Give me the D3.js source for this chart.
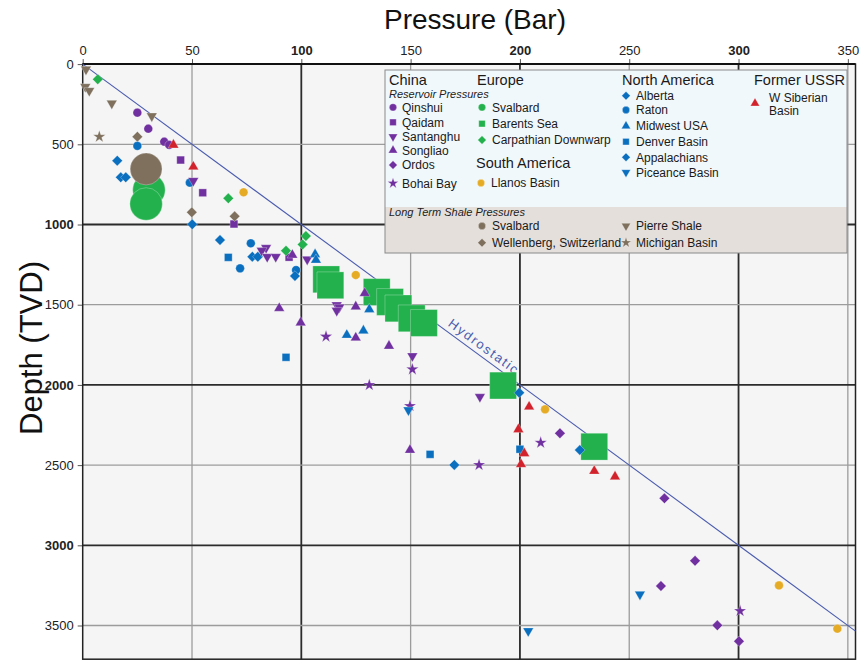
<!DOCTYPE html>
<html>
<head>
<meta charset="utf-8">
<script src="https://cdn.jsdelivr.net/npm/d3@7"></script>
<style>
  body { margin: 0; background: #fff; }
  svg { font-family: "Liberation Sans", Arial, sans-serif; }
</style>
</head>
<body>
<div id="chart"></div>
<script>
// values: [pressure (bar), depth (m TVD)]
// China - reservoir pressures
const qinshui   = [[25,303],[30,403],[37.3,484],[39.6,504]];
const qaidam    = [[44.8,598],[54.9,802],[69.2,997],[94.4,1204]];
const santanghu = [[50.6,727],[83.9,1145],[81.9,1163],[84.4,1201],[88.3,1201],[102.7,1217],
                   [116.2,1502],[117.4,1516],[116.2,1537],[150.8,1820],[181.7,2074]];
const songliao  = [[95.9,1190],[129,1429],[124.9,1512],[89.9,1522],[99.7,1612],[124.9,1706],
                   [140.1,1757],[149.7,2406]];
const ordos     = [[218.3,2302],[266.1,2707],[280.1,3096],[264.5,3254],[290.3,3499],[300.2,3598]];
const bohaiBay  = [[111.3,1699],[131.1,2001],[150.8,1903],[149.7,2132],[181.3,2499],[209.5,2360],[300.7,3410]];
// Europe
const svalbard    = [[30.3,785],[29,872]];
const barentsSea  = [[111.4,1342],[113.3,1379],[134.5,1421],[140.6,1483],[144.4,1523],
                     [150.5,1585],[156.1,1614],[192.3,2004],[234,2385]];
const carpathian  = [[6.9,95],[66.6,837],[102.1,1072],[100.6,1124],[93,1163]];
// South America
const llanos      = [[73.6,799],[124.9,1315],[211.5,2152],[318.5,3250],[345.2,3520]];
// North America
const alberta     = [[15.8,602],[17.4,706],[19.7,706],[50.1,999],[62.8,1097]];
const raton       = [[25,510],[49,739],[76.9,1117],[72,1273],[97.6,1284]];
const midwest     = [[106.3,1186],[106.7,1221],[131.1,1529],[120.8,1689],[128.4,1662]];
const denver      = [[66.6,1205],[93,1828],[158.9,2433],[200,2401]];
const appalachian = [[77.6,1201],[80.1,1201],[97.1,1321],[170,2499],[199.7,2049],[227.4,2406]];
const piceance    = [[149,2157],[254.9,3306],[203.8,3534]];
// Former USSR
const wSiberian   = [[41.5,504],[50.6,640],[204.2,2136],[199.3,2277],[202,2427],[200.5,2495],[234,2537],[243.5,2572]];
// Long term shale pressures
const ltSvalbard  = [[29,654]];
const wellenberg  = [[25,453],[49.9,924],[69.5,949]];
const pierreShale = [[1.5,33],[1.2,141],[3.0,166],[13.3,245],[31.6,324]];
const michigan    = [[7.6,453]];

const xTicks = [0, 50, 100, 150, 200, 250, 300, 350];
const yTicks = [0, 500, 1000, 1500, 2000, 2500, 3000, 3500];
const boldX = [100, 200, 300];
const boldY = [1000, 2000, 3000];
const hydroGradient = 10; // m per bar

const purple = '#7030a0', green = '#22b14c', blue = '#0b6fbf',
      orange = '#e6ab25', red = '#d2222c', brown = '#7e705d';

// style + legend slot per series (mx,my = legend marker, lx = label x)
const series = [
  {name:'Qinshui', data:qinshui, shape:'circle', color:purple, size:60, leg:[393,107.3,402]},
  {name:'Qaidam', data:qaidam, shape:'square', color:purple, size:60, leg:[393,122.3,402]},
  {name:'Santanghu', data:santanghu, shape:'down', color:purple, size:48, leg:[393,136.7,402]},
  {name:'Songliao', data:songliao, shape:'up', color:purple, size:48, leg:[393,150.3,402]},
  {name:'Ordos', data:ordos, shape:'diamond', color:purple, size:55, leg:[393,165,402]},
  {name:'Bohai Bay', data:bohaiBay, shape:'star', color:purple, size:48, leg:[393,183.3,402]},
  {name:'Svalbard', data:svalbard, shape:'circle', color:green, size:830, leg:[482,107.3,492]},
  {name:'Barents Sea', data:barentsSea, shape:'square', color:green, size:720, leg:[482,123.7,492]},
  {name:'Carpathian Downwarp', data:carpathian, shape:'diamond', color:green, size:55, leg:[482,140,492]},
  {name:'Llanos Basin', data:llanos, shape:'circle', color:orange, size:60, leg:[481,183,491]},
  {name:'Alberta', data:alberta, shape:'diamond', color:blue, size:55, leg:[626,95.7,636]},
  {name:'Raton', data:raton, shape:'circle', color:blue, size:60, leg:[626,110,636]},
  {name:'Midwest USA', data:midwest, shape:'up', color:blue, size:48, leg:[626,126,636]},
  {name:'Denver Basin', data:denver, shape:'square', color:blue, size:60, leg:[626,141.7,636]},
  {name:'Appalachians', data:appalachian, shape:'diamond', color:blue, size:55, leg:[626,157.3,636]},
  {name:'Piceance Basin', data:piceance, shape:'down', color:blue, size:48, leg:[626,172.3,636]},
  {name:'W Siberian|Basin', data:wSiberian, shape:'up', color:red, size:48, leg:[755,103.3,769]},
  {name:'Svalbard', data:ltSvalbard, shape:'circle', color:brown, size:800, leg:[482,226,492]},
  {name:'Wellenberg, Switzerland', data:wellenberg, shape:'diamond', color:brown, size:55, leg:[482,242.7,492]},
  {name:'Pierre Shale', data:pierreShale, shape:'down', color:brown, size:48, leg:[626,226,636]},
  {name:'Michigan Basin', data:michigan, shape:'star', color:brown, size:48, leg:[626,242.7,636]}
];

const width = 860, height = 660;
const svg = d3.select('#chart').append('svg')
  .attr('width', width).attr('height', height);

const x = d3.scaleLinear().domain([0, 353.5]).range([82.7, 855.5]);
const y = d3.scaleLinear().domain([0, 3710]).range([64.1, 659.2]);

// plot background
svg.append('rect')
  .attr('x', x(0)).attr('y', y(0))
  .attr('width', x(353.5) - x(0)).attr('height', y(3710) - y(0))
  .style('fill', '#f5f5f5');

// grid
svg.append('g').selectAll('line')
  .data(xTicks.filter(d => d > 0))
  .enter().append('line')
  .attr('x1', d => x(d)).attr('x2', d => x(d))
  .attr('y1', y(0)).attr('y2', y(3710))
  .style('stroke', d => boldX.includes(d) ? '#2b2b2b' : '#9c9c9c')
  .style('stroke-width', d => boldX.includes(d) ? 1.8 : 1.3);

svg.append('g').selectAll('line')
  .data(yTicks.filter(d => d > 0))
  .enter().append('line')
  .attr('x1', x(0)).attr('x2', x(353.5))
  .attr('y1', d => y(d)).attr('y2', d => y(d))
  .style('stroke', d => boldY.includes(d) ? '#2b2b2b' : '#9c9c9c')
  .style('stroke-width', d => boldY.includes(d) ? 1.8 : 1.3);

// axes
const xAxis = svg.append('g')
  .attr('transform', `translate(0,${y(0)})`)
  .call(d3.axisTop(x).tickValues(xTicks).tickFormat(d3.format('d'))
    .tickSize(5).tickPadding(4).tickSizeOuter(0));
const yAxis = svg.append('g')
  .attr('transform', `translate(${x(0)},0)`)
  .call(d3.axisLeft(y).tickValues(yTicks).tickFormat(d3.format('d'))
    .tickSize(5).tickPadding(4).tickSizeOuter(0));

[xAxis, yAxis].forEach(a => {
  a.select('.domain').remove();
  a.selectAll('line').style('stroke', '#555');
  a.selectAll('text')
    .style('font-size', '13px')
    .style('fill', '#222')
    .style('font-family', '"Liberation Sans", Arial, sans-serif');
});
xAxis.selectAll('text').style('font-weight', d => boldX.includes(d) ? 'bold' : 'normal');
yAxis.selectAll('text').style('font-weight', d => boldY.includes(d) ? 'bold' : 'normal');

// frame
svg.append('rect')
  .attr('x', x(0)).attr('y', y(0))
  .attr('width', x(353.5) - x(0)).attr('height', y(3710) - y(0))
  .style('fill', 'none').style('stroke', '#222').style('stroke-width', 1.5);
svg.append('line')
  .attr('x1', x(0)).attr('x2', x(353.5)).attr('y1', y(0)).attr('y2', y(0))
  .style('stroke', '#111').style('stroke-width', 2);

// titles
svg.append('text')
  .attr('x', 475).attr('y', 29)
  .attr('text-anchor', 'middle')
  .style('font-size', '28px').style('fill', '#111')
  .text('Pressure (Bar)');
svg.append('text')
  .attr('transform', 'translate(42,348) rotate(-90)')
  .attr('text-anchor', 'middle')
  .style('font-size', '31px').style('fill', '#111')
  .text('Depth (TVD)');

// hydrostatic line
const hydroMax = x.domain()[1];
svg.append('line')
  .attr('x1', x(0)).attr('y1', y(0))
  .attr('x2', x(hydroMax)).attr('y2', y(hydroMax * hydroGradient))
  .style('stroke', '#4a5cb0').style('stroke-width', 1.1);

const labelP = 181;
const angle = Math.atan2(y(hydroGradient * 100) - y(0), x(100) - x(0)) * 180 / Math.PI;
svg.append('text')
  .attr('transform', `translate(${x(labelP)},${y(labelP * hydroGradient)}) rotate(${angle})`)
  .attr('dy', -5)
  .attr('text-anchor', 'middle')
  .style('font-size', '13px')
  .style('letter-spacing', '1.8px')
  .style('fill', '#4a5cb0')
  .text('Hydrostatic');

// markers
const symbolTypes = {
  circle: d3.symbolCircle, square: d3.symbolSquare, diamond: d3.symbolSquare,
  up: d3.symbolTriangle, down: d3.symbolTriangle, star: d3.symbolStar
};
const rotation = { diamond: 45, down: 180 };

function marker(sel, s, size) {
  sel.attr('d', d3.symbol(symbolTypes[s.shape], size)())
    .style('fill', s.color)
    .style('stroke', '#fff')
    .style('stroke-width', 0.4)
    .style('stroke-opacity', 0.7);
}

// big symbols first so the small ones stay visible
const ordered = series.slice().sort((a, b) => b.size - a.size);
const pts = svg.append('g');
ordered.forEach(s => {
  pts.append('g').selectAll('path')
    .data(s.data)
    .enter().append('path')
    .attr('transform', d => `translate(${x(d[0])},${y(d[1])}) rotate(${rotation[s.shape] || 0})`)
    .call(marker, s, s.size);
});

// legend
const legend = svg.append('g');
legend.append('rect')
  .attr('x', 385).attr('y', 70).attr('width', 462).attr('height', 137)
  .style('fill', '#f1f8fc');
legend.append('rect')
  .attr('x', 385).attr('y', 207).attr('width', 462).attr('height', 46)
  .style('fill', '#e4dfdb');
legend.append('rect')
  .attr('x', 385).attr('y', 70).attr('width', 462).attr('height', 183)
  .style('fill', 'none').style('stroke', '#8a8a8a').style('stroke-width', 1);

const headers = [['China',389,84.5],['Europe',477,84.5],['North America',622,84.5],
                 ['Former USSR',754,84.5],['South America',476,168]];
legend.selectAll('text.head')
  .data(headers).enter().append('text')
  .attr('class', 'head')
  .attr('x', d => d[1]).attr('y', d => d[2])
  .style('font-size', '14.5px').style('fill', '#1a1a1a')
  .text(d => d[0]);

const subs = [['Reservoir Pressures',389,98],['Long Term Shale Pressures',389,215.5]];
legend.selectAll('text.sub')
  .data(subs).enter().append('text')
  .attr('class', 'sub')
  .attr('x', d => d[1]).attr('y', d => d[2])
  .style('font-size', '11px').style('font-style', 'italic').style('fill', '#222')
  .text(d => d[0]);

series.forEach(s => {
  const [mx, my, lx] = s.leg;
  const small = s.shape === 'circle' || s.shape === 'square' ? 42 : 36;
  legend.append('path')
    .attr('transform', `translate(${mx},${my}) rotate(${rotation[s.shape] || 0})`)
    .call(marker, s, small);
  const lines = s.name.split('|');
  const ty = lines.length > 1 ? my - 5.6 : my;
  lines.forEach((t, i) => {
    legend.append('text')
      .attr('x', lx).attr('y', ty + i * 13.4 + 4.3)
      .style('font-size', '12px').style('fill', '#1a1a1a')
      .text(t);
  });
});
</script>
</body>
</html>
